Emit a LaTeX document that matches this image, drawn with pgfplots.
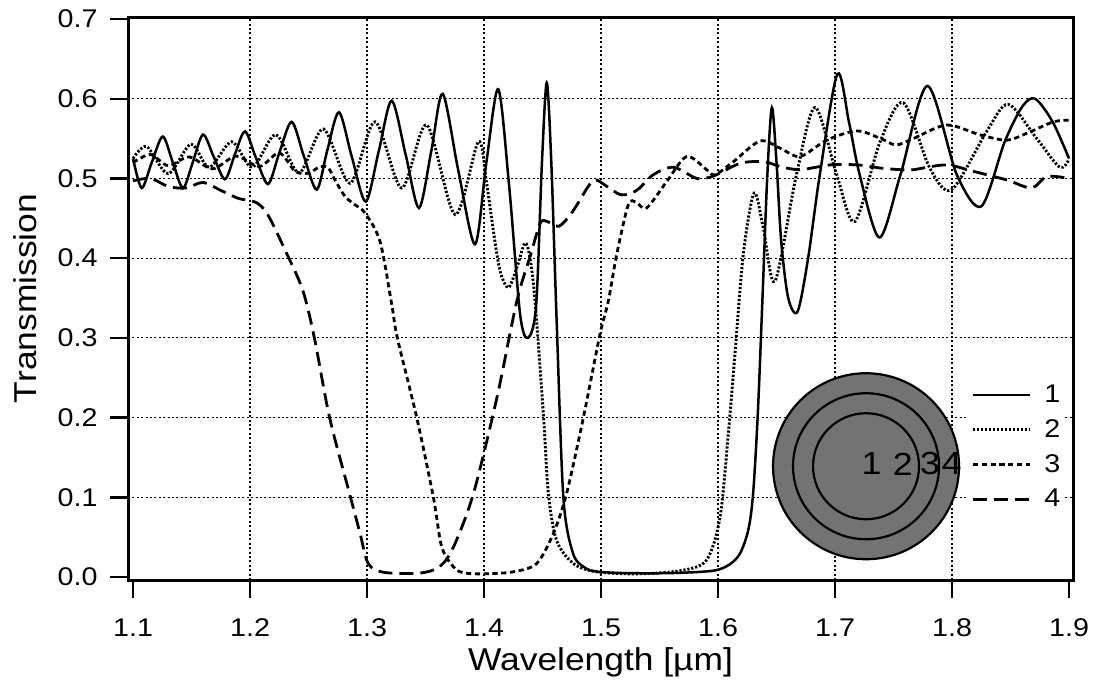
\documentclass[border=0pt]{standalone}
\usepackage{fontspec}
\setmainfont{Liberation Sans}[FakeStretch=1.12]
\usepackage{pgfplots}
\pgfplotsset{compat=1.18}
\definecolor{disk}{gray}{0.45}

\begin{document}
\begin{tikzpicture}
\useasboundingbox (0pt,0pt) rectangle (547.5pt,340.5pt);
\begin{axis}[
  scale only axis, width=472.5pt, height=281.5pt,
  at={(64pt,50.5pt)}, anchor=south west,
  xmin=1.0957, xmax=1.9034, ymin=-0.0037, ymax=0.7025,
  xtick={1.2,1.3,1.4,1.5,1.6,1.7,1.8},
  extra x ticks={1.1,1.9},
  ytick={0.1,0.2,0.3,0.4,0.5,0.6},
  extra y ticks={0,0.7},
  extra tick style={grid=none},
  grid=major,
  major grid style={black, line width=0.6pt, dash pattern=on 1pt off 1.2pt},
  axis line style={line width=1.5pt},
  tick style={black, line width=1.2pt},
  major tick length=9pt,
  tick align=outside,
  tick pos=left,
  /pgf/number format/.cd, fixed, fixed zerofill, precision=1, assume math mode=true,
  /pgfplots/.cd,
  ticklabel style={font=\fontsize{12.8}{15}\selectfont, inner sep=0pt},
  xticklabel style={anchor=north, yshift=-10pt},
  yticklabel style={anchor=east, xshift=-6pt},
  xlabel={Wavelength [µm]},
  ylabel={Transmission},
  label style={font=\fontsize{15.8}{18}\selectfont, inner sep=0pt},
  xlabel style={at={(axis description cs:0.5,-0.1599)}, anchor=base},
  ylabel style={at={(axis description cs:-0.0963,0.5)}, anchor=base},
  legend style={at={(axis cs:1.812,0.248)}, anchor=north west, draw=none,
    fill=white, inner sep=2.5pt, row sep=7pt, column sep=6.5pt,
    font=\fontsize{12.8}{15}\selectfont, nodes={inner sep=0pt}},
  legend cell align=left,
  legend image code/.code={\draw[#1] (0pt,0pt) -- (28.5pt,0pt);},
  every axis plot/.append style={black, smooth, line cap=butt},
]

% 1 : solid
\addplot[line width=1.25pt] coordinates {
(1.100,0.525) (1.1074,0.488) (1.116,0.520) (1.1254,0.5525) (1.134,0.520)
(1.1427,0.488) (1.151,0.520) (1.1598,0.555) (1.169,0.527) (1.1786,0.499)
(1.187,0.530) (1.1957,0.559) (1.205,0.526) (1.2154,0.493) (1.225,0.532)
(1.2356,0.571) (1.246,0.528) (1.257,0.486) (1.266,0.535) (1.276,0.583)
(1.287,0.527) (1.2989,0.471) (1.310,0.534) (1.3211,0.5975) (1.333,0.530)
(1.3444,0.463) (1.355,0.535) (1.3647,0.606) (1.378,0.510) (1.3923,0.4175)
(1.402,0.520) (1.4122,0.612) (1.4215,0.490) (1.4308,0.330) (1.4375,0.300)
(1.4445,0.340) (1.4495,0.520) (1.4536,0.620) (1.4575,0.520) (1.4621,0.320)
(1.4678,0.100) (1.476,0.030) (1.486,0.012) (1.496,0.007) (1.520,0.005)
(1.560,0.005) (1.596,0.008) (1.610,0.016) (1.619,0.030) (1.626,0.060)
(1.630,0.105) (1.634,0.205) (1.638,0.350) (1.642,0.500) (1.646,0.589)
(1.650,0.520) (1.654,0.421) (1.660,0.350) (1.668,0.333) (1.677,0.400)
(1.687,0.505) (1.702,0.631) (1.712,0.570) (1.721,0.505) (1.738,0.426)
(1.756,0.505) (1.779,0.616) (1.804,0.505) (1.825,0.465) (1.845,0.546)
(1.860,0.590) (1.871,0.600) (1.886,0.571) (1.900,0.525)
};
\addlegendentry{1}

% 2 : dotted
\addplot[line width=1.45pt, dash pattern=on 1.1pt off 0.9pt] coordinates {
(1.100,0.525) (1.1117,0.540) (1.130,0.506) (1.1495,0.543) (1.165,0.514)
(1.1844,0.546) (1.202,0.514) (1.2221,0.555) (1.242,0.507) (1.2627,0.562)
(1.2855,0.494) (1.3068,0.571) (1.3296,0.488) (1.351,0.567) (1.3752,0.4546)
(1.3951,0.546) (1.402,0.496) (1.408,0.434) (1.4137,0.384) (1.4208,0.363)
(1.428,0.388) (1.435,0.419) (1.4393,0.400) (1.4436,0.346) (1.4507,0.2046)
(1.455,0.105) (1.462,0.046) (1.4763,0.017) (1.496,0.0066) (1.530,0.004)
(1.5675,0.008) (1.590,0.021) (1.6017,0.075) (1.6088,0.180) (1.6145,0.280)
(1.6216,0.405) (1.6308,0.4816) (1.6387,0.438) (1.6487,0.371) (1.667,0.5046)
(1.683,0.589) (1.7014,0.5046) (1.717,0.446) (1.7385,0.546) (1.7584,0.595)
(1.781,0.513) (1.7997,0.486) (1.8296,0.559) (1.848,0.593) (1.8724,0.550)
(1.892,0.514) (1.900,0.524)
};
\addlegendentry{2}

% 3 : short dashes
\addplot[line width=1.4pt, dash pattern=on 2.6pt off 1.8pt] coordinates {
(1.100,0.520) (1.115,0.530) (1.130,0.516) (1.148,0.527) (1.168,0.512)
(1.188,0.528) (1.208,0.515) (1.225,0.532) (1.2385,0.509) (1.2498,0.5066)
(1.260,0.515) (1.267,0.513) (1.2726,0.498) (1.2812,0.4775) (1.2897,0.467)
(1.2983,0.4566) (1.3111,0.421) (1.3211,0.342) (1.3259,0.300) (1.3425,0.200)
(1.3567,0.100) (1.3638,0.038) (1.3738,0.013) (1.3823,0.0054) (1.400,0.004)
(1.425,0.0066) (1.445,0.017) (1.4592,0.0546) (1.4706,0.105) (1.4849,0.200)
(1.4991,0.3046) (1.5062,0.346) (1.5134,0.4046) (1.5233,0.467) (1.530,0.470)
(1.539,0.463) (1.5561,0.496) (1.5732,0.5275) (1.5903,0.511) (1.5974,0.5046)
(1.6131,0.521) (1.6359,0.547) (1.653,0.538) (1.6701,0.5275) (1.6929,0.548)
(1.7185,0.5596) (1.7385,0.5504) (1.752,0.542) (1.767,0.550) (1.7954,0.567)
(1.824,0.5546) (1.8467,0.548) (1.8638,0.5566) (1.8866,0.571) (1.900,0.573)
};
\addlegendentry{3}

% 4 : long dashes
\addplot[line width=1.4pt, dash pattern=on 7pt off 3.5pt] coordinates {
(1.100,0.497) (1.115,0.500) (1.130,0.490) (1.145,0.488) (1.160,0.495)
(1.175,0.485) (1.190,0.475) (1.205,0.470) (1.215,0.455) (1.230,0.410)
(1.245,0.360) (1.255,0.300) (1.268,0.200) (1.285,0.105) (1.294,0.055)
(1.301,0.017) (1.314,0.006) (1.345,0.005) (1.362,0.013) (1.374,0.038)
(1.391,0.105) (1.411,0.225) (1.428,0.346) (1.440,0.405) (1.448,0.444)
(1.454,0.446) (1.464,0.440) (1.474,0.455) (1.482,0.473) (1.490,0.492)
(1.496,0.498) (1.505,0.490) (1.516,0.480) (1.525,0.481) (1.533,0.488)
(1.545,0.505) (1.562,0.514) (1.582,0.500) (1.596,0.503) (1.619,0.519)
(1.639,0.521) (1.653,0.515) (1.670,0.511) (1.696,0.517) (1.719,0.517)
(1.739,0.513) (1.756,0.511) (1.767,0.511) (1.795,0.517) (1.818,0.509)
(1.847,0.498) (1.868,0.488) (1.881,0.5025) (1.900,0.500)
};
\addlegendentry{4}

% cross-section of the layered structure
\filldraw[fill=disk, draw=black, line width=1.1pt] (axis cs:1.7265,0.139) circle[radius=46.5pt];
\draw[black, line width=1.1pt] (axis cs:1.7265,0.139) circle[radius=36.5pt];
\draw[black, line width=1.1pt] (axis cs:1.7265,0.139) circle[radius=26.5pt];
\begin{scope}[every node/.style={font=\fontsize{16}{18}\selectfont, inner sep=0pt, text=black}]
\node at (axis cs:1.7313,0.142) {1};
\node at (axis cs:1.7580,0.142) {2};
\node at (axis cs:1.7812,0.142) {3};
\node at (axis cs:1.7997,0.142) {4};
\end{scope}
\end{axis}
\end{tikzpicture}
\end{document}
